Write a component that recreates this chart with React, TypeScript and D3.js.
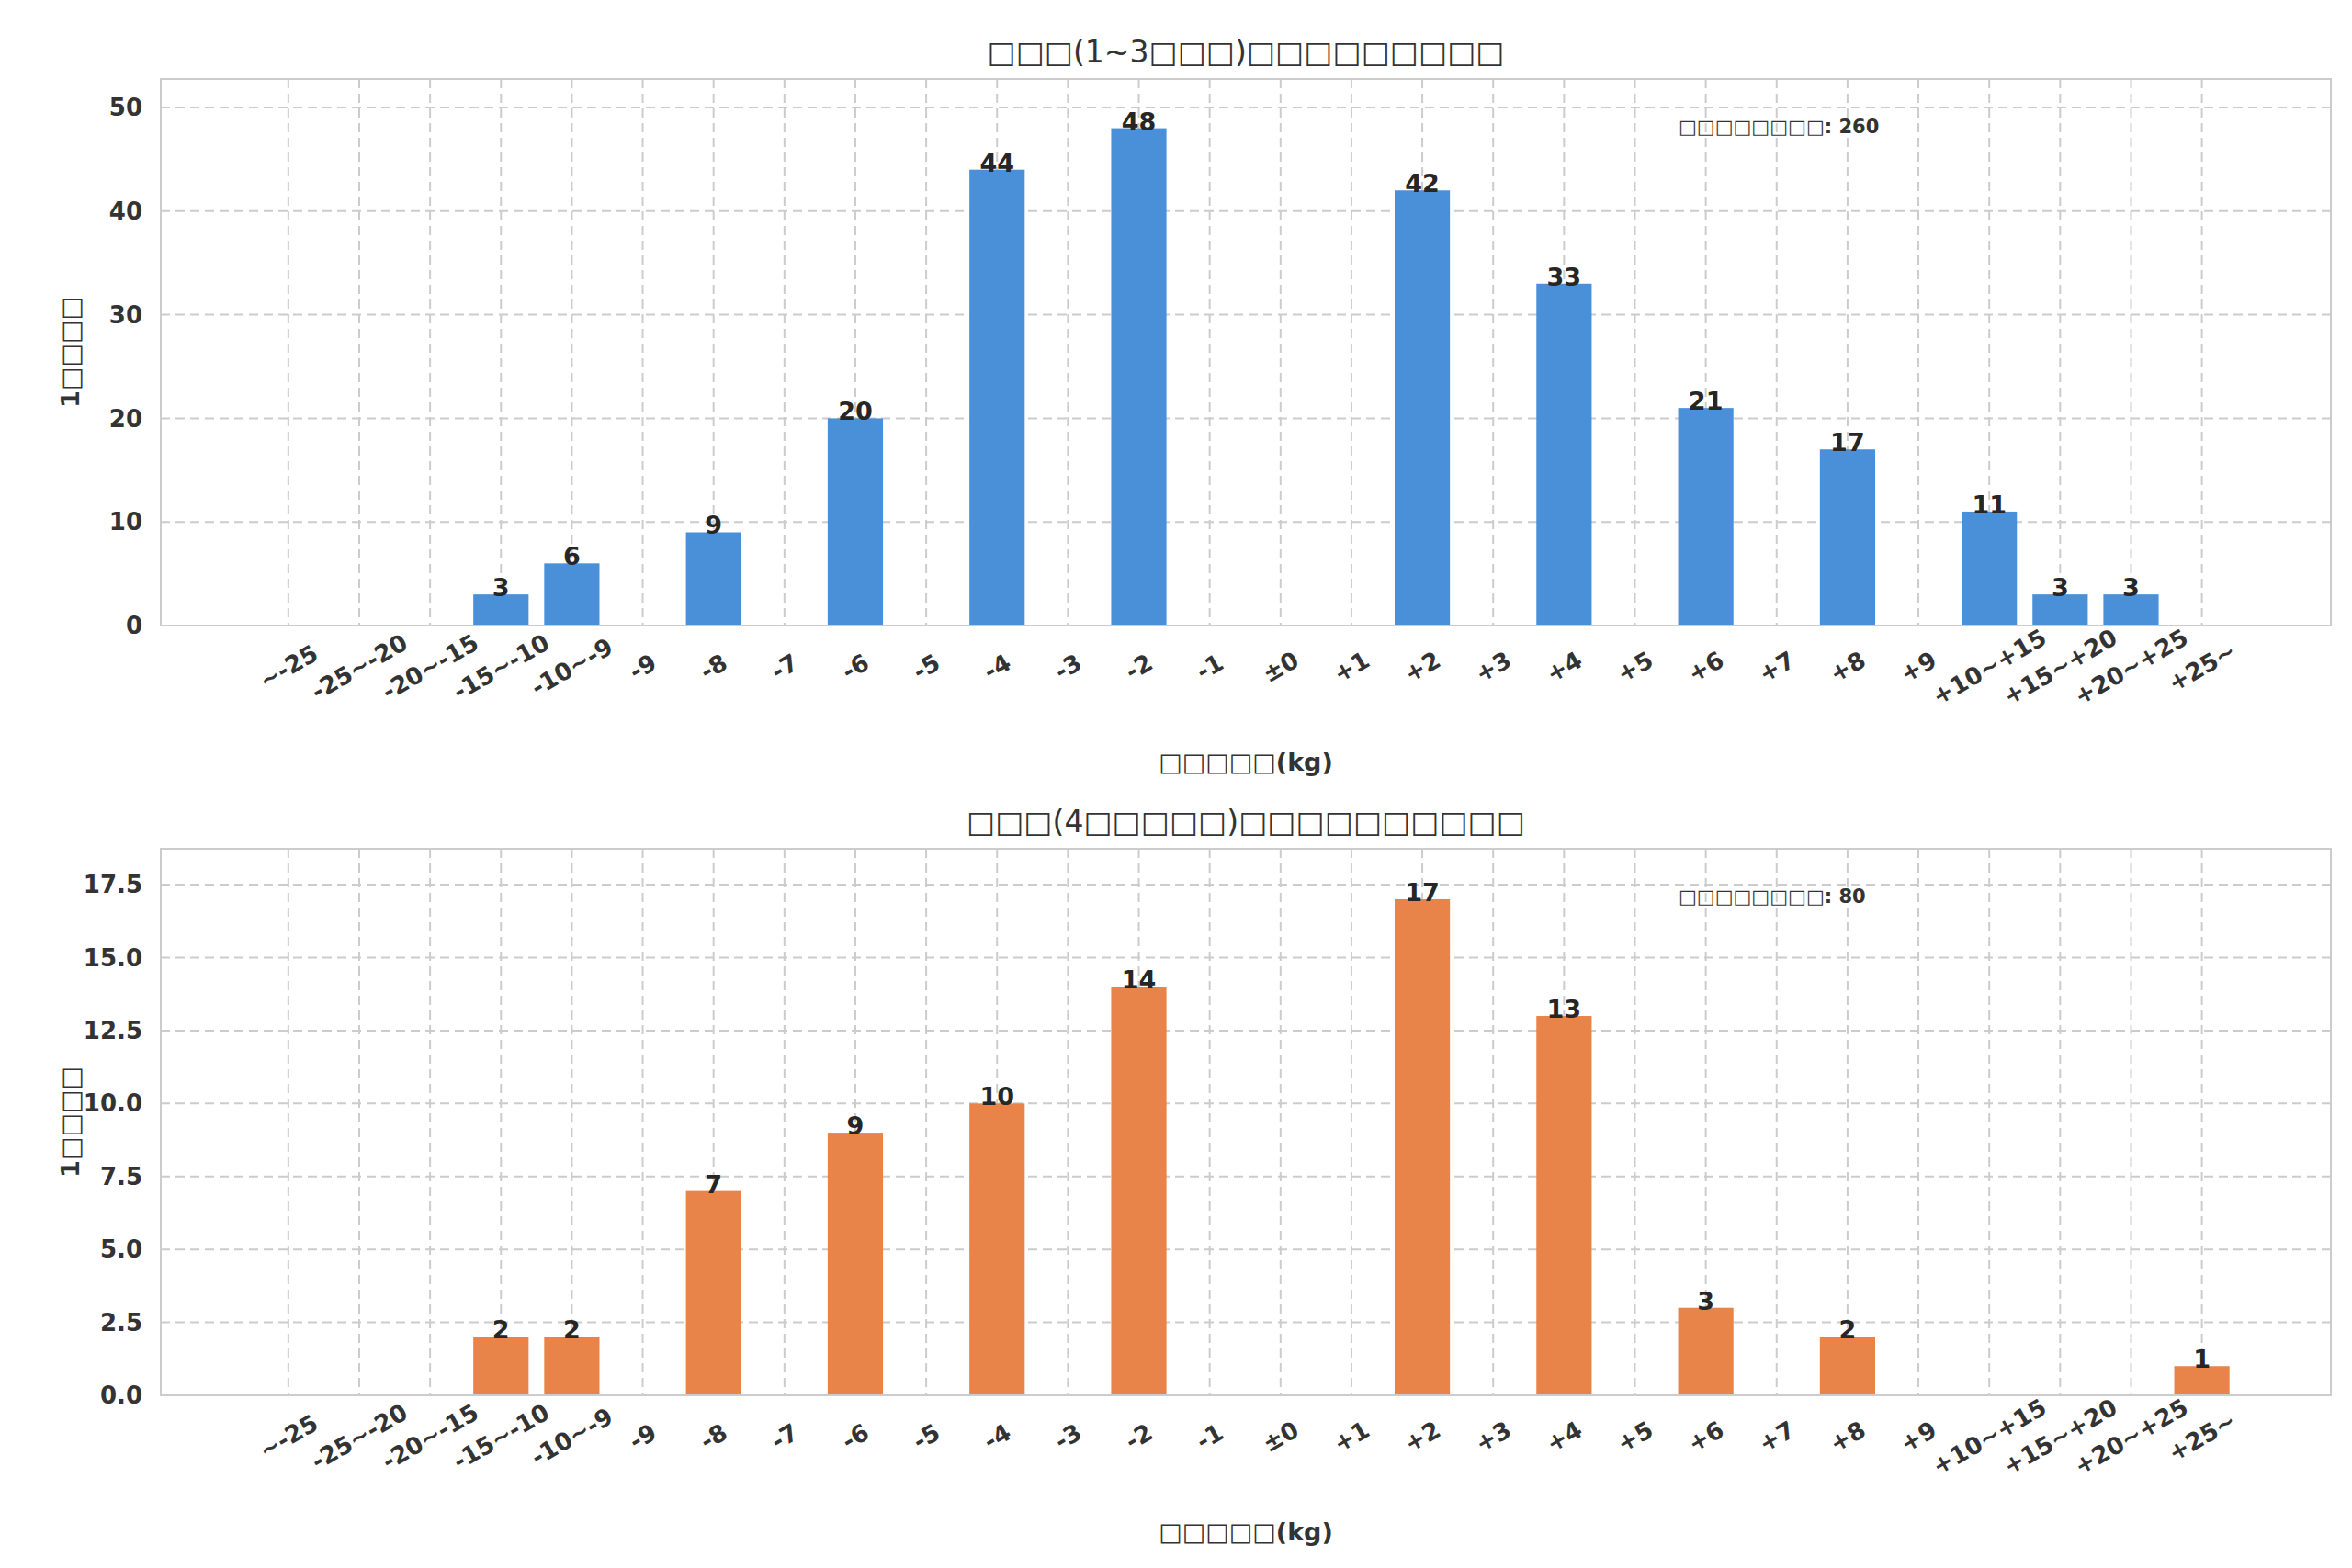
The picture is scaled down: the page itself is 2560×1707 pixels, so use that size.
import React from 'react';
import * as d3 from 'd3';

const categories = ['~-25', '-25~-20', '-20~-15', '-15~-10', '-10~-9', '-9', '-8', '-7', '-6', '-5', '-4', '-3', '-2', '-1', '±0',
  '+1', '+2', '+3', '+4', '+5', '+6', '+7', '+8', '+9', '+10~+15', '+15~+20', '+20~+25', '+25~'];

const topValues = [0, 0, 0, 3, 6, 0, 9, 0, 20, 0, 44, 0, 48, 0, 0, 0, 42, 0, 33, 0, 21, 0, 17, 0, 11, 3, 3, 0];
const bottomValues = [0, 0, 0, 2, 2, 0, 7, 0, 9, 0, 10, 0, 14, 0, 0, 0, 17, 0, 13, 0, 3, 0, 2, 0, 0, 0, 0, 1];

const topTicks = [0, 10, 20, 30, 40, 50];
const bottomTicks = [0, 2.5, 5, 7.5, 10, 12.5, 15, 17.5];

const B = '□';
const topTitle = `${B.repeat(3)}(1~3${B.repeat(3)})${B.repeat(9)}`;
const bottomTitle = `${B.repeat(3)}(4${B.repeat(5)})${B.repeat(10)}`;
const yLabel = `1${B.repeat(4)}`;
const xLabel = `${B.repeat(5)}(kg)`;
const noteLabel = B.repeat(8);

const W = 2560;
const H = 1707;
const left = 167;
const right = 2529;
const font = 'DejaVu Sans, sans-serif';

type PanelProps = {
  top: number;
  bottom: number;
  values: number[];
  ticks: number[];
  yMax: number;
  color: string;
  title: string;
  tickFmt: (v: number) => string;
};

const Panel = ({ top, bottom, values, ticks, yMax, color, title, tickFmt }: PanelProps) => {
  const x = d3.scaleLinear().domain([-1.8, categories.length - 1 + 1.82]).range([left, right]);
  const y = d3.scaleLinear().domain([0, yMax]).range([bottom, top]);
  const bw = x(0.78) - x(0);
  const total = d3.sum(values);
  return (
    <g>
      <text x={(left + right) / 2} y={top - 18} textAnchor="middle" fontSize={33} fill="#333" fontFamily={font}>{title}</text>
      {categories.map((c, i) => (
        <line key={c} x1={x(i)} x2={x(i)} y1={top} y2={bottom} stroke="#cccccc" strokeWidth={2} strokeDasharray="10,6" />
      ))}
      {ticks.map(t => (
        <g key={t}>
          <line x1={left} x2={right} y1={y(t)} y2={y(t)} stroke="#cccccc" strokeWidth={2} strokeDasharray="10,6" />
          <text x={left - 20} y={y(t)} dy="0.35em" textAnchor="end" fontSize={26} fontWeight="bold" fill="#333" fontFamily={font}>{tickFmt(t)}</text>
        </g>
      ))}
      {values.map((v, i) => v > 0 && (
        <g key={i}>
          <rect x={x(i) - bw / 2} y={y(v)} width={bw} height={y(0) - y(v)} fill={color} />
          <text x={x(i)} y={y(v) + 2} textAnchor="middle" fontSize={27} fontWeight="bold" fill="#262626" fontFamily={font}>{v}</text>
        </g>
      ))}
      <rect x={left} y={top} width={right - left} height={bottom - top} fill="none" stroke="#cccccc" strokeWidth={2} />
      {categories.map((c, i) => (
        <text key={c} transform={`translate(${x(i)},${bottom + 45}) rotate(-30)`} textAnchor="middle" dy="0.35em"
          fontSize={26} fontWeight="bold" fill="#333" fontFamily={font}>{c}</text>
      ))}
      <text x={(left + right) / 2} y={bottom + 158} textAnchor="middle" fontSize={27} fontWeight="bold" fill="#333" fontFamily={font}>{xLabel}</text>
      <text transform={`translate(${78},${(top + bottom) / 2}) rotate(-90)`} textAnchor="middle" fontSize={27} fontWeight="bold" fill="#333" fontFamily={font}>{yLabel}</text>
      <text x={1819} y={top + 59} fontSize={21} fontWeight="bold" fill="#333" fontFamily={font}>{`${noteLabel}: ${total}`}</text>
    </g>
  );
};

const App = () => (
  <svg width={W} height={H} viewBox={`0 0 ${W} ${H}`} style={{ display: 'block', background: '#fff' }}>
    <rect width={W} height={H} fill="#fff" />
    <Panel top={78} bottom={673} values={topValues} ticks={topTicks} yMax={52.75} color="#4a90d9" title={topTitle} tickFmt={d => String(d)} />
    <Panel top={916} bottom={1511} values={bottomValues} ticks={bottomTicks} yMax={18.73} color="#e8844a" title={bottomTitle} tickFmt={d => d.toFixed(1)} />
  </svg>
);

export default App;
